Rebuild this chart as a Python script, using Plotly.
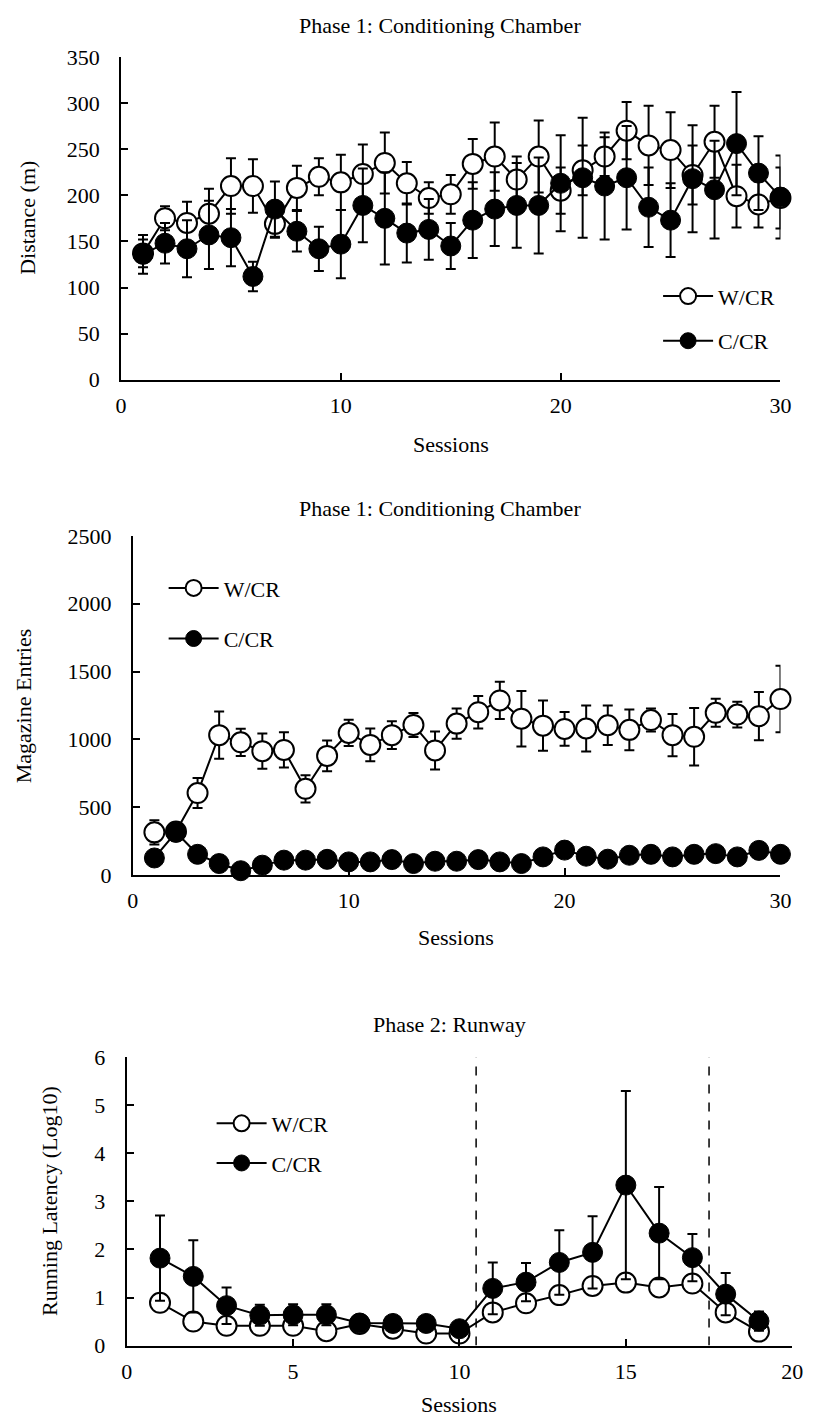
import plotly.graph_objects as go

# ---------------- data ----------------
sessions_p1 = list(range(1, 31))
dist_wcr = [137, 175, 170, 180, 210, 210, 169, 208, 220, 214, 223, 235, 213, 197, 201,
            234, 242, 217, 242, 205, 227, 242, 270, 254, 249, 222, 258, 199, 190, 197]
dist_wcr_err = [15, 13, 23, 27, 30, 29, 15, 24, 20, 30, 32, 33, 23, 17, 21,
                27, 37, 25, 39, 25, 27, 21, 31, 43, 41, 32, 39, 34, 25, 33]
dist_ccr = [136, 148, 142, 157, 154, 112, 185, 161, 142, 147, 189, 175, 159, 163, 145,
            173, 185, 189, 189, 213, 219, 210, 219, 187, 173, 218, 206, 256, 224, 198]
dist_ccr_err = [21, 22, 31, 37, 31, 16, 30, 22, 24, 37, 40, 50, 32, 33, 25,
                41, 40, 46, 52, 52, 65, 58, 56, 43, 40, 58, 53, 56, 40, 45]

sessions_p2 = list(range(1, 31))
mag_wcr = [314, 320, 604, 1031, 978, 913, 922, 635, 878, 1047, 959, 1031, 1106, 918, 1116,
           1200, 1287, 1152, 1101, 1077, 1080, 1104, 1070, 1142, 1031, 1019, 1196, 1183, 1171, 1297]
mag_wcr_err = [90, 40, 110, 175, 100, 130, 130, 100, 113, 97, 120, 103, 88, 140, 111,
               120, 137, 205, 185, 124, 170, 145, 150, 85, 155, 212, 103, 95, 178, 245]
mag_ccr = [125, 314, 152, 84, 31, 72, 109, 109, 115, 96, 96, 113, 84, 101, 101,
           113, 96, 84, 133, 183, 138, 116, 145, 152, 133, 152, 157, 133, 181, 152]

sessions_p3 = list(range(1, 20))
lat_wcr = [0.89, 0.50, 0.41, 0.41, 0.41, 0.30, 0.45, 0.35, 0.25, 0.25,
           0.69, 0.88, 1.05, 1.24, 1.31, 1.21, 1.29, 0.69, 0.29]
lat_ccr = [1.82, 1.44, 0.83, 0.63, 0.64, 0.64, 0.47, 0.46, 0.46, 0.35,
           1.19, 1.32, 1.73, 1.94, 3.34, 2.34, 1.83, 1.07, 0.51]
lat_ccr_err = [0.89, 0.75, 0.38, 0.22, 0.22, 0.22, 0.16, 0.15, 0.13, 0.10,
               0.54, 0.40, 0.67, 0.75, 1.96, 0.96, 0.49, 0.44, 0.20]
phase_breaks = [10.5, 17.5]

group_names = ["W/CR", "C/CR"]
titles = ["Phase 1: Conditioning Chamber", "Phase 1: Conditioning Chamber", "Phase 2: Runway"]
y_titles = ["Distance (m)", "Magazine Entries", "Running Latency (Log10)"]
x_title = "Sessions"

# ---------------- layout helpers ----------------
W, H = 814, 1428
FONT = "Liberation Serif, Times New Roman, serif"
FS = 22


def px_x(p):
    return p / W


def px_y(p):
    return 1 - p / H


open_marker = dict(symbol="circle", size=20, color="white", line=dict(color="black", width=2))
fill_marker = dict(symbol="circle", size=20, color="black", line=dict(color="black", width=1))
line_style = dict(color="black", width=2)


def err(arr):
    return dict(type="data", array=arr, visible=True, color="black", thickness=2, width=5)


fig = go.Figure()

# Panel 1
fig.add_trace(go.Scatter(x=sessions_p1, y=dist_wcr, mode="lines+markers", name=group_names[0],
                         marker=open_marker, line=line_style, error_y=err(dist_wcr_err),
                         xaxis="x", yaxis="y", legend="legend", legendgroup="a1", cliponaxis=False))
fig.add_trace(go.Scatter(x=sessions_p1, y=dist_ccr, mode="lines+markers", name=group_names[1],
                         marker=fill_marker, line=line_style, error_y=err(dist_ccr_err),
                         xaxis="x", yaxis="y", legend="legend", legendgroup="b1", cliponaxis=False))
# Panel 2
fig.add_trace(go.Scatter(x=sessions_p2, y=mag_wcr, mode="lines+markers", name=group_names[0],
                         marker=open_marker, line=line_style, error_y=err(mag_wcr_err),
                         xaxis="x2", yaxis="y2", legend="legend2", legendgroup="a2", cliponaxis=False))
fig.add_trace(go.Scatter(x=sessions_p2, y=mag_ccr, mode="lines+markers", name=group_names[1],
                         marker=fill_marker, line=line_style,
                         xaxis="x2", yaxis="y2", legend="legend2", legendgroup="b2", cliponaxis=False))
# Panel 3
fig.add_trace(go.Scatter(x=sessions_p3, y=lat_wcr, mode="lines+markers", name=group_names[0],
                         marker=open_marker, line=line_style,
                         xaxis="x3", yaxis="y3", legend="legend3", legendgroup="a3", cliponaxis=False))
fig.add_trace(go.Scatter(x=sessions_p3, y=lat_ccr, mode="lines+markers", name=group_names[1],
                         marker=fill_marker, line=line_style, error_y=err(lat_ccr_err),
                         xaxis="x3", yaxis="y3", legend="legend3", legendgroup="b3", cliponaxis=False))

for xb in phase_breaks:
    fig.add_shape(type="line", xref="x3", yref="y3", x0=xb, x1=xb, y0=0, y1=6,
                  line=dict(color="black", width=1.5, dash="dash"))

axis_common = dict(showline=True, linecolor="black", linewidth=2, ticks="inside", ticklen=7,
                   tickwidth=2, tickcolor="black", showgrid=False, zeroline=False,
                   tickfont=dict(family=FONT, size=FS, color="black"), fixedrange=True)

panels = [
    # x domain px, y domain px (top, bottom), xrange, xdtick, yrange, ydtick
    ((117.5, 791), (45.7, 374.3), [0, 30], 10, [0, 350], 50),
    ((129.5, 791), (533.3, 878.3), [0, 30], 10, [0, 2500], 500),
    ((123.3, 803), (1064, 1357.3), [0, 20], 5, [0, 6], 1),
]

layout = dict(width=W, height=H, margin=dict(l=0, r=0, t=0, b=0),
              paper_bgcolor="white", plot_bgcolor="white", showlegend=True,
              font=dict(family=FONT, size=FS, color="black"))
for i, (xd, yd, xr, xdt, yr, ydt) in enumerate(panels):
    sfx = "" if i == 0 else str(i + 1)
    layout["xaxis" + sfx] = dict(axis_common, domain=[px_x(xd[0]), px_x(xd[1])], range=xr,
                                 dtick=xdt, tick0=0, anchor="y" + sfx, ticklabelstandoff=5)
    layout["yaxis" + sfx] = dict(axis_common, domain=[px_y(yd[1]), px_y(yd[0])], range=yr,
                                 dtick=ydt, tick0=0, anchor="x" + sfx, ticklabelstandoff=15)

legend_common = dict(font=dict(family=FONT, size=FS, color="black"), bgcolor="rgba(0,0,0,0)",
                     xanchor="left", yanchor="top", itemwidth=50, tracegroupgap=13,
                     itemclick=False, itemdoubleclick=False)
layout["legend"] = dict(legend_common, x=px_x(666), y=px_y(268))
layout["legend2"] = dict(legend_common, x=px_x(161), y=px_y(565), tracegroupgap=19)
layout["legend3"] = dict(legend_common, x=px_x(210), y=px_y(1110), tracegroupgap=8)

fig.update_layout(**layout)

annotations = []
title_pos = [(443, 14), (443, 505), (453, 1031)]
for t, (tx, ty) in zip(titles, title_pos):
    annotations.append(dict(text=t, x=px_x(tx), y=px_y(ty), xref="paper", yref="paper",
                            showarrow=False, xanchor="center", yanchor="middle",
                            font=dict(family=FONT, size=FS, color="black")))
ytitle_pos = [(22, 210), (18, 706), (45, 1210)]
for t, (tx, ty) in zip(y_titles, ytitle_pos):
    annotations.append(dict(text=t, x=px_x(tx), y=px_y(ty), xref="paper", yref="paper",
                            showarrow=False, xanchor="center", yanchor="middle", textangle=-90,
                            font=dict(family=FONT, size=FS, color="black")))
xtitle_pos = [(454, 440), (460, 942), (463, 1417)]
for tx, ty in xtitle_pos:
    annotations.append(dict(text=x_title, x=px_x(tx), y=px_y(ty), xref="paper", yref="paper",
                            showarrow=False, xanchor="center", yanchor="middle",
                            font=dict(family=FONT, size=FS, color="black")))
fig.update_layout(annotations=annotations)

fig.write_html("out.html")
